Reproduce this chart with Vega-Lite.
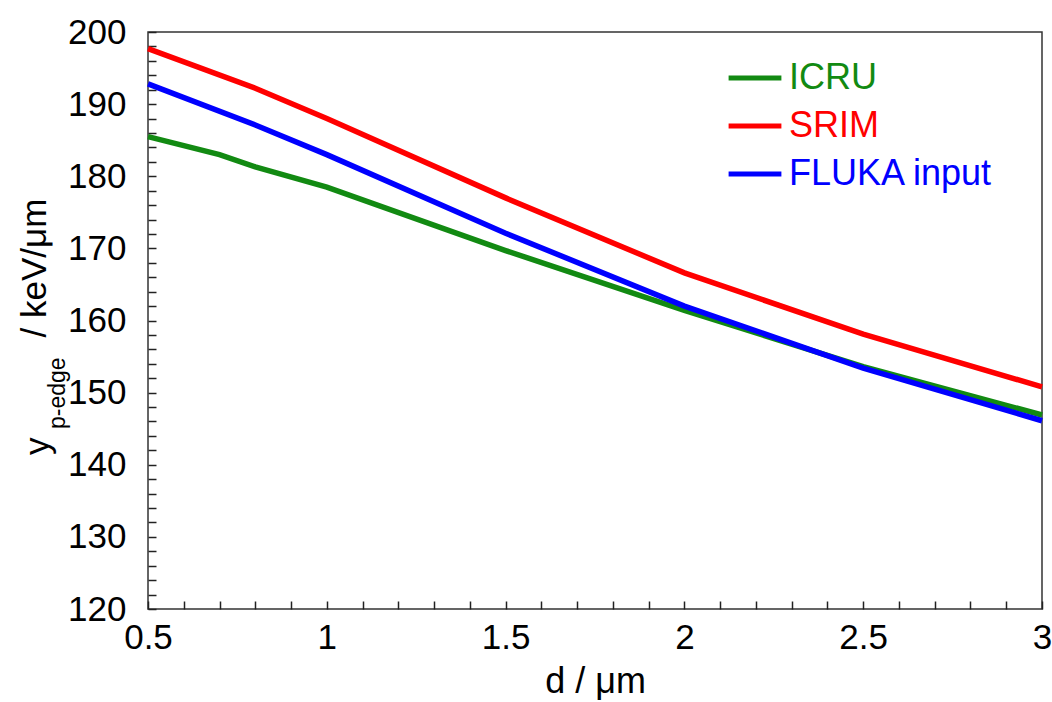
{
  "$schema": "https://vega.github.io/schema/vega-lite/v6.json",
  "width": 894,
  "height": 577,
  "autosize": {"type": "none"},
  "padding": {"left": 148, "top": 32, "right": 10, "bottom": 93},
  "background": "white",
  "config": {
    "font": "Liberation Sans",
    "view": {"stroke": "#333333", "strokeWidth": 1.5}
  },
  "title": {
    "text": "y",
    "subtitle": "p-edge",
    "orient": "left",
    "anchor": "start",
    "frame": "group",
    "font": "Liberation Sans",
    "subtitleFont": "Liberation Sans",
    "fontSize": 35,
    "fontWeight": "normal",
    "color": "#000000",
    "subtitleFontSize": 23,
    "subtitleColor": "#000000",
    "subtitlePadding": -9,
    "offset": -53,
    "dx": 154,
    "encode": {"subtitle": {"update": {"dx": {"value": 180}}}}
  },
  "data": {
    "values": [
      {"d": 0.5, "y": 185.5, "series": "ICRU"},
      {"d": 0.7, "y": 183.0, "series": "ICRU"},
      {"d": 0.8, "y": 181.3, "series": "ICRU"},
      {"d": 1.0, "y": 178.5, "series": "ICRU"},
      {"d": 1.5, "y": 169.7, "series": "ICRU"},
      {"d": 2.0, "y": 161.4, "series": "ICRU"},
      {"d": 2.5, "y": 153.6, "series": "ICRU"},
      {"d": 3.0, "y": 146.9, "series": "ICRU"},
      {"d": 0.5, "y": 197.7, "series": "SRIM"},
      {"d": 0.8, "y": 192.2, "series": "SRIM"},
      {"d": 1.0, "y": 188.0, "series": "SRIM"},
      {"d": 1.5, "y": 177.0, "series": "SRIM"},
      {"d": 2.0, "y": 166.6, "series": "SRIM"},
      {"d": 2.5, "y": 158.1, "series": "SRIM"},
      {"d": 3.0, "y": 150.8, "series": "SRIM"},
      {"d": 0.5, "y": 192.8, "series": "FLUKA input"},
      {"d": 0.8, "y": 187.1, "series": "FLUKA input"},
      {"d": 1.0, "y": 183.0, "series": "FLUKA input"},
      {"d": 1.5, "y": 172.1, "series": "FLUKA input"},
      {"d": 2.0, "y": 162.0, "series": "FLUKA input"},
      {"d": 2.5, "y": 153.4, "series": "FLUKA input"},
      {"d": 3.0, "y": 146.1, "series": "FLUKA input"}
    ]
  },
  "mark": {"type": "line", "strokeWidth": 5.5},
  "encoding": {
    "x": {"field": "d", "type": "quantitative", "scale": {"domain": [0.5, 3], "nice": false, "zero": false},
      "axis": {
        "values": [0.5, 0.6, 0.7, 0.8, 0.9, 1, 1.1, 1.2, 1.3, 1.4, 1.5, 1.6, 1.7, 1.8, 1.9, 2, 2.1, 2.2, 2.3, 2.4, 2.5, 2.6, 2.7, 2.8, 2.9, 3],
        "labelExpr": "abs(datum.value * 2 - round(datum.value * 2)) < 0.001 ? format(datum.value, '~g') : ''",
        "domain": false, "grid": false,
        "ticks": true, "tickSize": -8, "tickColor": "#222222", "tickWidth": 1.5,
        "labelFontSize": 35, "labelColor": "#000000", "labelPadding": 19, "labelFlush": false, "labelOverlap": false,
        "title": "d / μm", "titleFontSize": 36, "titleFontWeight": "normal", "titleColor": "#000000", "titleBaseline": "alphabetic", "titleY": 83}},
    "y": {"field": "y", "type": "quantitative", "scale": {"domain": [120, 200], "nice": false, "zero": false},
      "axis": {
        "values": [120, 122, 124, 126, 128, 130, 132, 134, 136, 138, 140, 142, 144, 146, 148, 150, 152, 154, 156, 158, 160, 162, 164, 166, 168, 170, 172, 174, 176, 178, 180, 182, 184, 186, 188, 190, 192, 194, 196, 198, 200],
        "labelExpr": "datum.value % 10 == 0 ? format(datum.value, 'd') : ''",
        "domain": false, "grid": false,
        "ticks": true, "tickSize": -8, "tickColor": "#222222", "tickWidth": 1.5,
        "labelFontSize": 35, "labelColor": "#000000", "labelPadding": 30, "labelFlush": false, "labelOverlap": false,
        "title": "/ keV/μm", "titleFontSize": 35, "titleFontWeight": "normal", "titleColor": "#000000", "titleAngle": 270, "titleAlign": "left", "titleBaseline": "alphabetic", "titleX": -103, "titleY": 305}},
    "color": {"field": "series", "type": "nominal",
      "scale": {"domain": ["ICRU", "SRIM", "FLUKA input"], "range": ["#128a12", "#ff0000", "#0000ff"]},
      "legend": {"orient": "none", "legendX": 589, "legendY": 28, "title": null, "padding": 0,
        "symbolType": "M-2.2,0H2.2", "symbolSize": 576, "symbolStrokeWidth": 5,
        "labelFontSize": 36, "labelOffset": 16, "rowPadding": 12, "labelLimit": 400,
        "encode": {"labels": {"update": {"fill": {"signal": "scale('color', datum.value)"}}}}}}
  }
}
